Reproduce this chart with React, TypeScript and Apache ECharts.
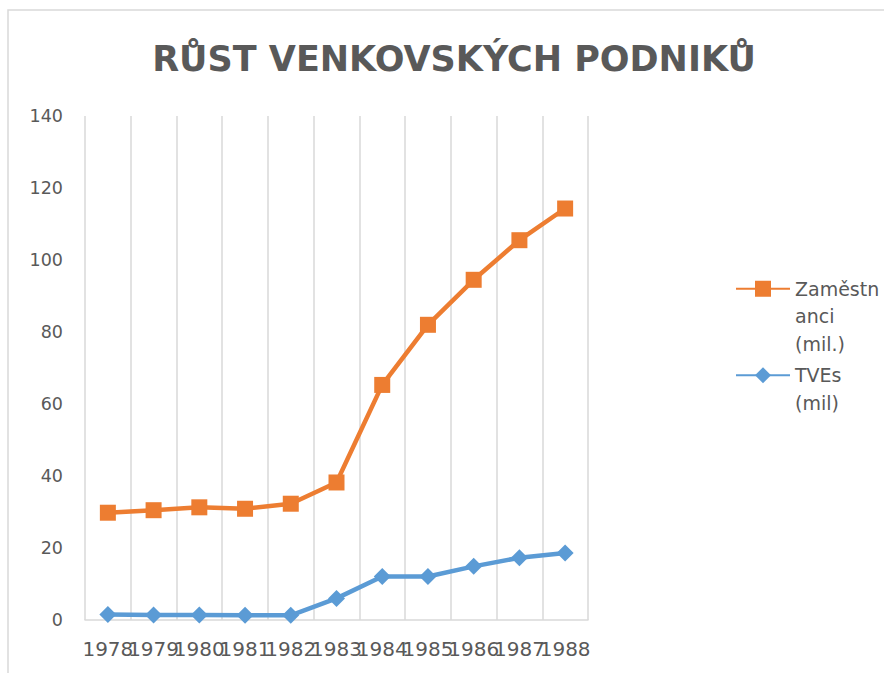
import React, { useEffect, useRef } from "react";
import * as echarts from "echarts";

const titleText = "RŮST VENKOVSKÝCH PODNIKŮ";
const years = ["1978", "1979", "1980", "1981", "1982", "1983", "1984", "1985", "1986", "1987", "1988"];
const employees = [29.8, 30.5, 31.3, 30.9, 32.3, 38.2, 65.3, 82.0, 94.5, 105.5, 114.3];
const tves = [1.5, 1.4, 1.4, 1.3, 1.3, 6.0, 12.1, 12.1, 14.9, 17.3, 18.6];
const nameEmp = "Zaměstnanci (mil.)";
const nameTve = "TVEs (mil)";
// wrapped legend labels; leading blank lines keep the icon level with the first line
const legendLabels: Record<string, string> = {
  [nameEmp]: "\n\nZaměstn\nanci\n(mil.)",
  [nameTve]: "\nTVEs\n(mil)",
};

const GRAY = "#595959";
const GRID = "#d9d9d9";
const ORANGE = "#ED7D31";
const BLUE = "#5B9BD5";

export default function App() {
  const ref = useRef<HTMLDivElement>(null);
  useEffect(() => {
    if (!ref.current) return;
    const chart = echarts.init(ref.current, undefined, { renderer: "svg" });
    const legendText = {
      color: GRAY,
      fontFamily: "DejaVu Sans",
      fontSize: 19,
      lineHeight: 27.5,
    };
    const legendBase = {
      orient: "vertical",
      left: 735,
      padding: 0,
      itemWidth: 54,
      itemHeight: 20,
      itemGap: 5,
      formatter: (n: string) => legendLabels[n] || n,
      textStyle: legendText,
    };
    chart.setOption({
      animation: false,
      backgroundColor: "#ffffff",
      title: {
        text: titleText,
        left: 449,
        textAlign: "center",
        top: 36,
        textStyle: {
          color: GRAY,
          fontFamily: "DejaVu Sans",
          fontWeight: "bold",
          fontSize: 35,
        },
      },
      graphic: [
        {
          type: "rect",
          shape: { x: 8, y: 10, width: 900, height: 700 },
          style: { fill: "none", stroke: GRID, lineWidth: 1.5 },
          silent: true,
        },
      ],
      legend: [
        { ...legendBase, data: [nameEmp], top: 220 },
        { ...legendBase, data: [nameTve], top: 334 },
      ],
      grid: { left: 85, right: 296, top: 116, bottom: 53, containLabel: false },
      xAxis: {
        type: "category",
        data: years,
        boundaryGap: true,
        axisLine: { show: true, lineStyle: { color: GRID, width: 1.5 } },
        axisTick: { show: false },
        splitLine: { show: true, lineStyle: { color: GRID, width: 1.5 } },
        axisLabel: {
          color: GRAY,
          fontFamily: "DejaVu Sans",
          fontSize: 20,
          margin: 19,
          interval: 0,
          hideOverlap: false,
        },
      },
      yAxis: {
        type: "value",
        min: 0,
        max: 140,
        interval: 20,
        axisLine: { show: false },
        axisTick: { show: false },
        splitLine: { show: false },
        axisLabel: {
          color: GRAY,
          fontFamily: "DejaVu Sans",
          fontSize: 17.5,
          margin: 22,
        },
      },
      series: [
        {
          name: nameEmp,
          type: "line",
          data: employees,
          symbol: "rect",
          symbolSize: 16,
          lineStyle: { color: ORANGE, width: 4.5 },
          itemStyle: { color: ORANGE },
          z: 3,
        },
        {
          name: nameTve,
          type: "line",
          data: tves,
          symbol: "diamond",
          symbolSize: 17,
          lineStyle: { color: BLUE, width: 4.5 },
          itemStyle: { color: BLUE },
          z: 2,
        },
      ],
    });
    return () => chart.dispose();
  }, []);
  return (
    <div
      ref={ref}
      style={{ position: "fixed", left: 0, top: 0, width: 884, height: 673, background: "#fff" }}
    />
  );
}
